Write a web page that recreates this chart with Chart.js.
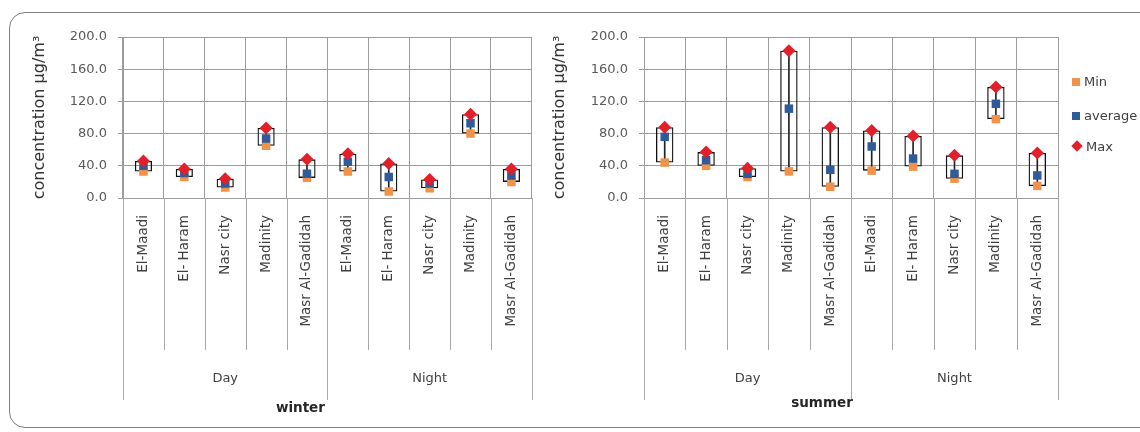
<!DOCTYPE html>
<html>
<head>
<meta charset="utf-8">
<script src="https://cdn.jsdelivr.net/npm/chart.js@4/dist/chart.umd.min.js"></script>
<style>
  html, body { margin: 0; padding: 0; background: #fff; }
  #wrap { position: relative; width: 1140px; height: 432px; overflow: hidden; font-family: "DejaVu Sans", sans-serif; }
  #frame { position: absolute; left: 9px; top: 12px; width: 1160px; height: 414px; border: 1px solid #7f7f7f; border-radius: 16px; }
  #cWinter { position: absolute; left: 0; top: 0; }
  #cSummer { position: absolute; left: 540px; top: 0; }
  .leg { position: absolute; left: 1072px; font-size: 13px; color: #404040; line-height: 14px; white-space: nowrap; }
  .mk { display: inline-block; width: 8px; height: 8px; margin-right: 4px; vertical-align: 0px; }
  .dm { display: inline-block; width: 8px; height: 8px; margin: 0 5px 0 1px; transform: rotate(45deg); vertical-align: 1px; }
</style>
</head>
<body>
<div id="wrap">
  <div id="frame"></div>
  <canvas id="cWinter" width="545" height="432"></canvas>
  <canvas id="cSummer" width="600" height="432"></canvas>
  <div class="leg" style="top:75px"><span class="mk" style="background:#f0924a"></span>Min</div>
  <div class="leg" style="top:109px"><span class="mk" style="background:#2f5b9a"></span>average</div>
  <div class="leg" style="top:140px"><span class="dm" style="background:#e3202a"></span>Max</div>
</div>
<script>
// Sites measured in each period (Day block, then Night block)
const sites = ['El-Maadi', 'El- Haram', 'Nasr city', 'Madinity', 'Masr Al-Gadidah'];
const periods = ['Day', 'Night'];
const categories = [...sites, ...sites];

// Winter concentrations (µg/m³)
const winterMin = [33, 26, 13, 65, 25, 33, 8, 12, 80, 20];
const winterAvg = [40, 31, 18, 74, 30, 45, 26, 18, 93, 28];
const winterMax = [46, 36, 24, 87, 48, 55, 43, 23, 104, 36];

// Summer concentrations (µg/m³)
const summerMin = [44, 40, 26, 33, 14, 34, 39, 24, 98, 15];
const summerAvg = [76, 47, 30, 111, 35, 64, 49, 30, 117, 28];
const summerMax = [88, 57, 37, 183, 88, 84, 77, 53, 138, 56];

// Y axis
const yMin = 0, yMax = 200, yStep = 40;

const FONT = 'DejaVu Sans';
const GRID = '#9c9c9c';

// Draws the period separators, period names and season title under the category axis
const groupAxis = {
  id: 'groupAxis',
  afterDraw(chart, args, o) {
    const ctx = chart.ctx;
    const x = chart.scales.x;
    const n = chart.data.labels.length;
    const per = n / periods.length;
    const step = x.getPixelForValue(1) - x.getPixelForValue(0);
    const edge = i => (i < n ? x.getPixelForValue(i) - step / 2 : x.getPixelForValue(n - 1) + step / 2);
    ctx.save();
    ctx.strokeStyle = '#a8a8a8';
    ctx.lineWidth = 1;
    for (let i = 0; i <= n; i++) {
      const px = Math.round(edge(i)) + 0.5;
      const end = (i % per === 0) ? o.groupBottom : o.catBottom;
      ctx.beginPath();
      ctx.moveTo(px, x.top);
      ctx.lineTo(px, end);
      ctx.stroke();
    }
    ctx.fillStyle = '#404040';
    ctx.font = `13px "${FONT}"`;
    ctx.textAlign = 'center';
    ctx.textBaseline = 'middle';
    periods.forEach((p, g) => {
      const cx = (edge(g * per) + edge((g + 1) * per)) / 2;
      ctx.fillText(p, cx, o.groupY);
    });
    ctx.fillStyle = '#262626';
    ctx.font = `bold 13.5px "${FONT}"`;
    ctx.fillText(o.title, (x.left + x.right) / 2 + o.titleShift, o.titleY);
    ctx.restore();
  }
};

function makeChart(id, mins, avgs, maxs, cfg) {
  const canvas = document.getElementById(id);
  const W = canvas.width, H = canvas.height;
  const spans = mins.map((m, i) => [m, maxs[i]]);
  return new Chart(canvas, {
    data: {
      labels: categories,
      datasets: [
        { type: 'bar', label: 'range', data: spans, order: 10, grouped: false,
          backgroundColor: 'rgba(255,255,255,0)', borderColor: '#111', borderWidth: 1.3,
          borderSkipped: false, barPercentage: 0.42, categoryPercentage: 1 },
        { type: 'bar', label: 'high-low', data: spans, order: 9, grouped: false,
          backgroundColor: '#222', borderWidth: 0, barThickness: 1 },
        { type: 'line', label: 'Min', data: mins, order: 3, showLine: false,
          pointStyle: 'rect', pointRadius: 6, pointBackgroundColor: '#f0924a', pointBorderColor: '#f0924a', pointBorderWidth: 0 },
        { type: 'line', label: 'average', data: avgs, order: 2, showLine: false,
          pointStyle: 'rect', pointRadius: 6, pointBackgroundColor: '#2f5b9a', pointBorderColor: '#2f5b9a', pointBorderWidth: 0 },
        { type: 'line', label: 'Max', data: maxs, order: 1, showLine: false,
          pointStyle: 'rectRot', pointRadius: 6.5, pointBackgroundColor: '#e3202a', pointBorderColor: '#e3202a', pointBorderWidth: 0 }
      ]
    },
    options: {
      responsive: false,
      animation: false,
      events: [],
      layout: { padding: { top: cfg.top, left: 0, right: W - cfg.right, bottom: 0 } },
      plugins: {
        legend: { display: false },
        tooltip: { enabled: false },
        groupAxis: { catBottom: 350, groupBottom: 400, groupY: 379, title: cfg.title, titleY: cfg.titleY, titleShift: cfg.titleShift }
      },
      scales: {
        x: {
          type: 'category',
          offset: true,
          grid: { display: true, offset: true, drawTicks: false, color: GRID },
          border: { color: GRID },
          ticks: { autoSkip: false, minRotation: 90, maxRotation: 90, padding: 17,
                   color: '#404040', font: { family: FONT, size: 13.5 } },
          afterFit(s) { s.height = H - cfg.bottom; }
        },
        y: {
          min: yMin, max: yMax,
          grid: { color: GRID, tickLength: 5 },
          border: { color: GRID },
          ticks: { stepSize: yStep, padding: 11, color: '#595959',
                   font: { family: FONT, size: 13 },
                   callback: v => v.toFixed(1) },
          title: { display: true, text: 'concentration μg/m³', color: '#333',
                   font: { family: FONT, size: 16 }, padding: { top: cfg.titlePad, bottom: 0 } },
          afterFit(s) { s.width = cfg.left; }
        }
      }
    },
    plugins: [groupAxis]
  });
}

makeChart('cWinter', winterMin, winterAvg, winterMax,
  { left: 123, right: 537, top: 37, bottom: 198, title: 'winter', titleY: 408, titleShift: -27, titlePad: 30 });
makeChart('cSummer', summerMin, summerAvg, summerMax,
  { left: 104, right: 518, top: 37, bottom: 198, title: 'summer', titleY: 403, titleShift: -29, titlePad: 10 });
</script>
</body>
</html>
